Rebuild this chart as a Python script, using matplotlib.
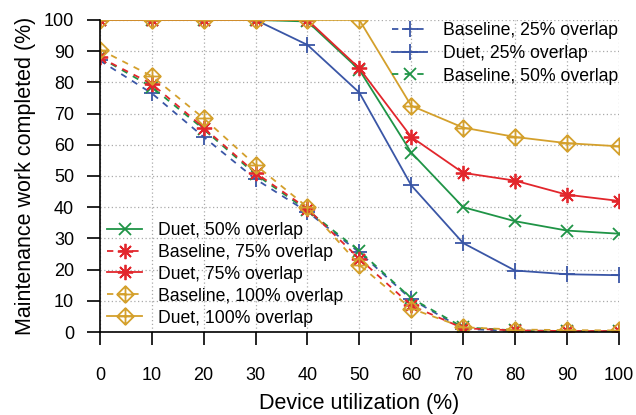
import numpy as np
from matplotlib import pyplot as plt
from matplotlib.path import Path

plt.rcParams['font.family'] = ['Liberation Sans', 'DejaVu Sans']

util = [0, 10, 20, 30, 40, 50, 60, 70, 80, 90, 100]

base_25 = [87, 76.5, 62.5, 49, 38.5, 25.5, 10.5, 1.0, 0.3, 0.2, 0.2]
duet_25 = [100, 100, 100, 100, 92, 76.7, 47, 28.5, 19.7, 18.5, 18.2]
base_50 = [88, 78.5, 65, 50.5, 39, 26, 10.8, 1.5, 0.5, 0.3, 0.2]
duet_50 = [100, 100, 100, 100, 99.5, 84, 57.5, 40, 35.5, 32.5, 31.5]
base_75 = [88, 79.5, 65.5, 51, 39.5, 23.5, 8.5, 1.2, 0.5, 0.3, 0.3]
duet_75 = [100, 100, 100, 100, 100, 84.5, 62.5, 51, 48.5, 44, 42]
base_100 = [90.5, 82, 68.5, 53.5, 40, 21.5, 7.5, 1.5, 0.8, 0.6, 0.5]
duet_100 = [100, 100, 100, 100, 100, 100, 72.5, 65.5, 62.5, 60.5, 59.5]

labels = ['Baseline, 25% overlap', 'Duet, 25% overlap',
          'Baseline, 50% overlap', 'Duet, 50% overlap',
          'Baseline, 75% overlap', 'Duet, 75% overlap',
          'Baseline, 100% overlap', 'Duet, 100% overlap']

blue = '#3a56a6'
green = '#1f9446'
red = '#e2262c'
gold = '#d4a02c'

# diamond with a plus inside (gnuplot style)
diamond_plus = Path(
    [(0, 1), (1, 0), (0, -1), (-1, 0), (0, 1), (0, 1), (0, -1), (-1, 0), (1, 0)],
    [Path.MOVETO, Path.LINETO, Path.LINETO, Path.LINETO, Path.CLOSEPOLY,
     Path.MOVETO, Path.LINETO, Path.MOVETO, Path.LINETO])

series = [
    (base_25, blue, '--', '+', 11),
    (duet_25, blue, '-', '+', 11),
    (base_50, green, '--', 'x', 9),
    (duet_50, green, '-', 'x', 9),
    (base_75, red, '--', (8, 2, 0), 11),
    (duet_75, red, '-', (8, 2, 0), 11),
    (base_100, gold, '--', diamond_plus, 12),
    (duet_100, gold, '-', diamond_plus, 12),
]

fig = plt.figure(figsize=(6.36, 4.15), dpi=100)
ax = fig.add_axes([0.157, 0.2, 0.816, 0.752])

handles = []
for (vals, c, ls, mk, ms), lab in zip(series, labels):
    h, = ax.plot(util, vals, color=c, linestyle=ls, linewidth=1.3,
                 marker=mk, markersize=ms, markeredgewidth=1.3,
                 markerfacecolor='none', label=lab)
    if ls == '--':
        h.set_dashes((3.5, 3.5))
    handles.append(h)

ax.set_xlim(0, 100)
ax.set_ylim(0, 100)
ax.set_xticks(util)
ax.set_yticks(np.arange(0, 101, 10))
ax.grid(True, color='#aaaaaa', linestyle=(0, (1, 2)), linewidth=0.9)
ax.spines['top'].set_visible(False)
ax.spines['right'].set_visible(False)
ax.spines['left'].set_linewidth(1.2)
ax.spines['bottom'].set_linewidth(1.2)
ax.tick_params(direction='out', length=9.5, width=1.2, labelsize=13)
ax.tick_params(axis='y', pad=9)
ax.tick_params(axis='x', pad=16)
ax.set_xlabel('Device utilization (%)', fontsize=15.5, labelpad=6)
ax.set_ylabel('Maintenance work completed (%)', fontsize=15.5, labelpad=6)

leg1 = ax.legend(handles=handles[:3], loc='upper right', frameon=False,
                 fontsize=12.7, handlelength=2.0, handletextpad=0.9,
                 labelspacing=0.32, borderaxespad=0.0,
                 bbox_to_anchor=(1.013, 1.015))
ax.add_artist(leg1)
ax.legend(handles=handles[3:], loc='lower left', frameon=False,
          fontsize=12.7, handlelength=2.0, handletextpad=0.9,
          labelspacing=0.28, borderaxespad=0.0, bbox_to_anchor=(0.0, -0.005))

plt.savefig('out.png', dpi=100)
plt.close()
